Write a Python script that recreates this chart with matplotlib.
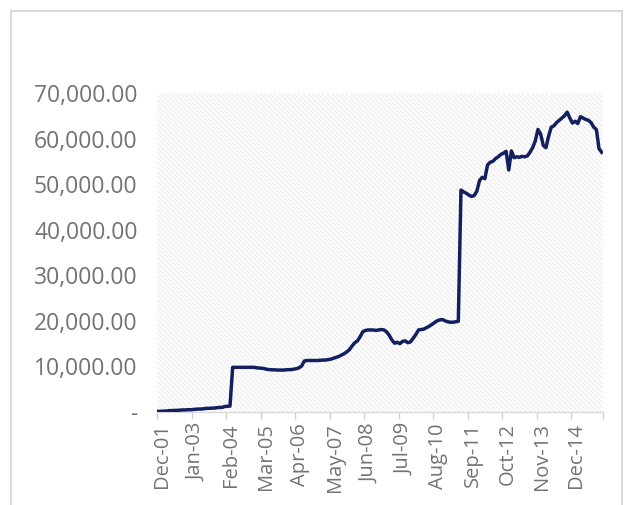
import matplotlib
matplotlib.use("Agg")
import matplotlib.pyplot as plt
import matplotlib.transforms as mtransforms
from matplotlib.patches import Rectangle
from matplotlib.ticker import FuncFormatter, FixedLocator

# ---- data (monthly, Dec-01 .. Nov-15) ----
values = [
    150, 150, 200, 200, 300, 300, 350, 350, 400, 450, 450, 500,
    500, 550, 600, 650, 650, 700, 800, 800, 850, 850, 950, 1000,
    1000, 1200, 1250, 1300, 9800, 9800, 9800, 9800, 9800, 9800, 9800, 9800,
    9800, 9700, 9650, 9600, 9500, 9350, 9300, 9250, 9250, 9200, 9200, 9200,
    9250, 9300, 9300, 9400, 9500, 9700, 10100, 11200, 11300, 11300, 11300, 11300,
    11300, 11350, 11400, 11400, 11500, 11600, 11800, 12000, 12200, 12500, 12800, 13200,
    13700, 14500, 15200, 15600, 16500, 17600, 17900, 18000, 18000, 18000, 17900, 18000,
    18100, 18000, 17600, 16800, 15800, 15100, 15300, 15000, 15500, 15600, 15200, 15400,
    16200, 17000, 18000, 18100, 18200, 18500, 18800, 19200, 19600, 20000, 20200, 20300,
    20000, 19800, 19700, 19700, 19800, 19900, 48700, 48300, 48000, 47600, 47300, 47500,
    48500, 50800, 51500, 51200, 54200, 54800, 55000, 55600, 56000, 56500, 56800, 57200,
    53100, 57300, 55800, 56000, 55900, 56100, 56000, 56200, 57000, 58000, 59500, 62000,
    61000, 58500, 58000, 60500, 62500, 62800, 63500, 64000, 64500, 65000, 65800, 64500,
    63400, 63800, 63300, 64800, 64500, 64200, 64000, 63500, 62500, 62000, 57800, 57000,
]
tick_labels = ["Dec-01", "Jan-03", "Feb-04", "Mar-05", "Apr-06", "May-07", "Jun-08",
               "Jul-09", "Aug-10", "Sep-11", "Oct-12", "Nov-13", "Dec-14"]
label_step = 13
y_ticks = [0, 10000, 20000, 30000, 40000, 50000, 60000, 70000]

W, H = 635, 505
fig = plt.figure(figsize=(W / 100, H / 100), dpi=100)
fig.patch.set_facecolor("white")

# outer chart border
fig.add_artist(Rectangle((11 / W, -0.05), (622 - 11) / W, (H - 11) / H + 0.05,
                         transform=fig.transFigure, fill=False,
                         edgecolor="#d9d9d9", linewidth=1.5))

ax = fig.add_axes([157 / W, (H - 412) / H, (603 - 157) / W, (412 - 93) / H])
ax.set_facecolor("white")
plt.rcParams["hatch.linewidth"] = 0.5
ax.add_patch(Rectangle((0, 0), 1, 1, transform=ax.transAxes, facecolor="white",
                       edgecolor="#e2e2e2", hatch="\\\\\\\\\\\\\\", linewidth=0, zorder=0))

x = list(range(len(values)))
ax.plot(x, values, color="#12205f", linewidth=2.5, solid_joinstyle="round", zorder=3)

ax.set_xlim(-0.5, len(values) - 0.5)
ax.set_ylim(0, 70000)

grey = "#737373"
ax.set_yticks(y_ticks)
ax.yaxis.set_major_formatter(FuncFormatter(lambda v, p: "-" if v == 0 else f"{v:,.2f}"))
ax.tick_params(axis="y", length=0, pad=14, labelsize=16.5, labelcolor=grey)

pos = [i * label_step for i in range(len(tick_labels))]
ax.set_xticks(pos)
ax.set_xticklabels(tick_labels, rotation=90)
ax.tick_params(axis="x", length=0, pad=8, labelsize=14.5, labelcolor=grey)
ax.xaxis.set_minor_locator(FixedLocator([p - 0.5 for p in pos] + [len(values) - 0.5]))
ax.tick_params(axis="x", which="minor", length=5, color="#d0d0d0", width=1)

shift = mtransforms.ScaledTranslation(4 / 100, 0, fig.dpi_scale_trans)
for t in ax.get_xticklabels():
    t.set_transform(t.get_transform() + shift)

for s in ["top", "right", "left"]:
    ax.spines[s].set_visible(False)
ax.spines["bottom"].set_color("#d9d9d9")
ax.spines["bottom"].set_linewidth(1)

for t in ax.get_xticklabels() + ax.get_yticklabels():
    t.set_fontfamily(["Open Sans", "DejaVu Sans"])

fig.savefig("out.png", dpi=100, facecolor="white")
